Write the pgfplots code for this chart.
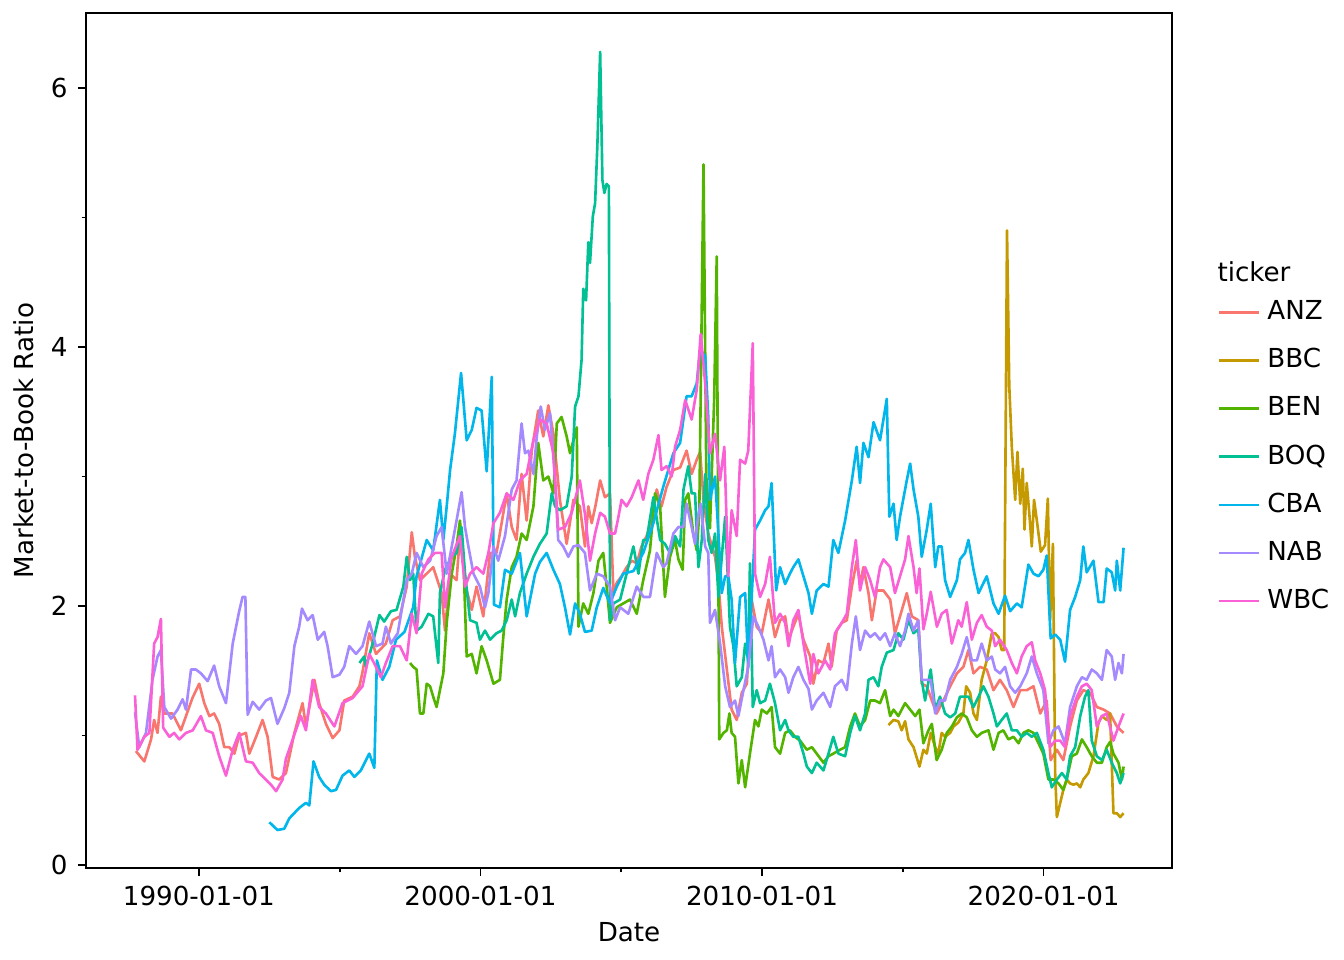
\documentclass[border=0pt]{standalone}
\usepackage{fontspec}
\setmainfont{DejaVu Sans}
\usepackage{pgfplots}
\pgfplotsset{compat=1.18}

\definecolor{cANZ}{HTML}{F8766D}
\definecolor{cBBC}{HTML}{C49A00}
\definecolor{cBEN}{HTML}{53B400}
\definecolor{cBOQ}{HTML}{00C094}
\definecolor{cCBA}{HTML}{00B6EB}
\definecolor{cNAB}{HTML}{A58AFF}
\definecolor{cWBC}{HTML}{FB61D7}

\begin{document}
\begin{tikzpicture}
\begin{axis}[
  scale only axis,
  width=372.3bp, height=293.1bp,
  xmin=1985.99, xmax=2024.56,
  ymin=-0.023, ymax=6.58,
  font=\fontsize{9}{11}\selectfont,
  /pgf/number format/assume math mode=true,
  axis line style={line width=0.6bp},
  tick align=outside, tick pos=left,
  major tick length=2.8bp, minor tick length=1.5bp,
  every tick/.style={black, line width=0.6bp},
  xtick={1990,2000,2010,2020},
  xticklabels={1990-01-01,2000-01-01,2010-01-01,2020-01-01},
  minor xtick={1995,2005,2015},
  ytick={0,2,4,6},
  minor ytick={1,3,5},
  xlabel={Date}, ylabel={Market-to-Book Ratio},
  xlabel style={at={(axis description cs:0.5,-0.0747)}, anchor=center},
  ylabel style={at={(axis description cs:-0.0572,0.5)}, anchor=center},
  every axis plot/.append style={line width=0.9bp, line join=round},
  legend image code/.code={\draw[#1] (0bp,0bp) -- (13.7bp,0bp);},
  legend style={draw=none, fill=none, inner sep=0pt, at={(1,0.481)}, xshift=15.4bp, anchor=west,
    row sep=7.9bp, column sep=2.5bp,
    nodes={inner sep=0pt, text height=6.8bp, text depth=1.8bp, anchor=west}},
  legend cell align=left,
]
\addplot[cANZ] coordinates {(1987.76,0.88)(1988.06,0.80)(1988.30,0.97)(1988.41,1.12)(1988.53,1.02)(1988.65,1.30)(1988.77,1.17)(1989.06,1.17)(1989.36,1.04)(1989.54,1.15)(1989.77,1.29)(1990.01,1.40)(1990.19,1.25)(1990.37,1.15)(1990.54,1.17)(1990.72,1.09)(1990.90,0.91)(1991.08,0.91)(1991.26,0.86)(1991.43,1.00)(1991.67,1.02)(1991.79,0.86)(1992.03,0.99)(1992.26,1.12)(1992.44,0.99)(1992.62,0.68)(1992.85,0.66)(1993.09,0.71)(1993.39,1.02)(1993.68,1.25)(1993.80,1.07)(1994.10,1.43)(1994.27,1.25)(1994.51,1.09)(1994.75,0.98)(1994.99,1.04)(1995.16,1.27)(1995.46,1.30)(1995.70,1.38)(1995.81,1.49)(1996.05,1.79)(1996.29,1.63)(1996.64,1.71)(1996.88,1.89)(1997.14,1.92)(1997.38,2.15)(1997.56,2.57)(1997.67,2.38)(1997.85,2.20)(1998.09,2.25)(1998.32,2.30)(1998.62,2.10)(1998.74,1.81)(1998.92,2.25)(1999.15,2.20)(1999.27,2.54)(1999.51,2.12)(1999.69,1.97)(1999.86,2.15)(2000.10,1.92)(2000.34,2.41)(2000.57,2.41)(2000.93,2.87)(2001.11,2.61)(2001.28,2.51)(2001.46,3.02)(2001.64,2.66)(2001.82,3.20)(2002.05,3.51)(2002.23,3.31)(2002.41,3.55)(2002.59,3.33)(2002.82,2.82)(2003.06,2.48)(2003.30,2.82)(2003.53,2.77)(2003.71,2.46)(2003.83,2.77)(2003.95,2.64)(2004.08,2.77)(2004.25,2.97)(2004.42,2.84)(2004.60,2.87)(2004.72,2.10)(2004.84,2.18)(2005.01,2.23)(2005.19,2.30)(2005.37,2.35)(2005.55,2.33)(2005.72,2.46)(2005.90,2.54)(2006.08,2.66)(2006.26,2.90)(2006.43,2.77)(2006.61,2.92)(2006.85,3.05)(2007.09,3.07)(2007.32,3.20)(2007.50,3.02)(2007.68,3.13)(2007.80,3.19)(2007.92,2.82)(2008.09,2.56)(2008.33,2.38)(2008.45,2.18)(2008.57,1.84)(2008.75,1.51)(2008.92,1.20)(2009.10,1.12)(2009.28,1.33)(2009.46,1.40)(2009.63,2.05)(2009.81,1.84)(2009.99,1.79)(2010.23,2.05)(2010.46,1.76)(2010.64,1.89)(2010.82,1.92)(2010.94,1.74)(2011.11,1.84)(2011.29,1.94)(2011.47,1.74)(2011.71,1.61)(2011.82,1.40)(2012.00,1.58)(2012.18,1.56)(2012.36,1.71)(2012.47,1.53)(2012.65,1.81)(2012.83,1.87)(2013.01,1.89)(2013.19,2.15)(2013.36,2.35)(2013.48,2.17)(2013.60,2.30)(2013.78,2.10)(2013.90,1.89)(2014.07,2.12)(2014.31,2.12)(2014.55,2.05)(2014.72,1.79)(2014.90,1.92)(2015.14,2.10)(2015.32,1.92)(2015.55,1.89)(2015.67,1.40)(2015.85,1.38)(2016.03,1.27)(2016.20,1.17)(2016.44,1.27)(2016.68,1.38)(2016.92,1.48)(2017.15,1.53)(2017.33,1.66)(2017.51,1.48)(2017.74,1.53)(2017.98,1.51)(2018.22,1.35)(2018.45,1.43)(2018.69,1.35)(2018.93,1.22)(2019.17,1.35)(2019.40,1.35)(2019.64,1.38)(2019.88,1.17)(2020.11,1.27)(2020.25,0.81)(2020.47,0.89)(2020.70,0.81)(2020.94,1.07)(2021.18,1.27)(2021.41,1.35)(2021.65,1.33)(2021.89,1.22)(2022.13,1.20)(2022.36,1.17)(2022.60,1.07)(2022.84,1.02)};
\addlegendentry{ANZ}
\addplot[cBBC] coordinates {(2014.49,1.08)(2014.67,1.12)(2014.84,1.11)(2014.96,1.04)(2015.08,1.11)(2015.20,0.97)(2015.38,0.91)(2015.59,0.76)(2015.73,0.89)(2015.85,0.86)(2015.99,1.02)(2016.15,0.91)(2016.26,0.86)(2016.38,1.02)(2016.50,0.99)(2016.68,1.02)(2016.80,1.07)(2016.97,1.10)(2017.15,1.17)(2017.25,1.38)(2017.39,1.33)(2017.51,1.17)(2017.63,1.12)(2017.80,1.43)(2017.98,1.58)(2018.16,1.79)(2018.28,1.79)(2018.40,1.76)(2018.51,1.66)(2018.60,1.66)(2018.70,4.90)(2018.78,3.70)(2018.87,3.23)(2018.99,2.82)(2019.07,3.19)(2019.17,2.79)(2019.26,3.06)(2019.32,2.59)(2019.40,2.95)(2019.49,2.72)(2019.58,2.46)(2019.66,2.82)(2019.76,2.66)(2019.90,2.42)(2020.05,2.47)(2020.15,2.83)(2020.23,1.89)(2020.33,2.48)(2020.41,0.71)(2020.47,0.37)(2020.59,0.48)(2020.70,0.58)(2020.82,0.66)(2020.94,0.63)(2021.06,0.62)(2021.18,0.63)(2021.30,0.60)(2021.41,0.66)(2021.59,0.71)(2021.77,0.84)(2021.95,1.10)(2022.07,1.15)(2022.24,1.12)(2022.36,1.17)(2022.48,0.40)(2022.60,0.40)(2022.72,0.37)(2022.84,0.40)};
\addlegendentry{BBC}
\addplot[cBEN] coordinates {(1997.50,1.56)(1997.61,1.53)(1997.73,1.51)(1997.85,1.17)(1997.97,1.17)(1998.09,1.40)(1998.21,1.38)(1998.32,1.30)(1998.44,1.22)(1998.56,1.35)(1998.68,1.48)(1998.80,1.87)(1998.98,2.25)(1999.15,2.46)(1999.27,2.66)(1999.39,2.38)(1999.51,1.61)(1999.69,1.63)(1999.86,1.48)(2000.04,1.69)(2000.22,1.58)(2000.46,1.40)(2000.69,1.43)(2000.81,1.76)(2000.93,2.05)(2001.11,2.30)(2001.28,2.38)(2001.46,2.56)(2001.64,2.51)(2001.88,2.77)(2002.05,3.26)(2002.23,2.97)(2002.41,3.00)(2002.59,2.87)(2002.71,3.41)(2002.88,3.46)(2003.06,3.31)(2003.18,3.18)(2003.30,3.28)(2003.42,3.38)(2003.48,1.84)(2003.65,2.02)(2003.83,1.94)(2004.01,2.10)(2004.19,2.35)(2004.36,2.41)(2004.48,2.15)(2004.60,1.87)(2004.84,1.99)(2005.07,2.02)(2005.31,2.05)(2005.55,1.94)(2005.78,2.20)(2006.02,2.43)(2006.20,2.87)(2006.38,2.77)(2006.55,2.07)(2006.73,2.38)(2006.91,2.51)(2007.03,2.36)(2007.18,2.28)(2007.27,2.82)(2007.38,2.87)(2007.56,2.56)(2007.68,2.43)(2007.77,2.71)(2007.92,5.41)(2008.02,3.00)(2008.15,2.60)(2008.30,3.60)(2008.39,4.70)(2008.48,0.97)(2008.63,1.02)(2008.75,1.04)(2008.84,1.17)(2008.92,1.02)(2009.04,0.99)(2009.16,0.63)(2009.28,0.81)(2009.40,0.60)(2009.57,0.86)(2009.75,1.12)(2009.87,1.07)(2009.99,1.20)(2010.17,1.17)(2010.34,1.22)(2010.46,0.91)(2010.64,0.86)(2010.82,1.02)(2010.99,1.04)(2011.17,0.99)(2011.35,0.96)(2011.59,0.89)(2011.77,0.91)(2011.94,0.86)(2012.18,0.79)(2012.36,0.84)(2012.53,0.86)(2012.77,0.89)(2012.95,0.91)(2013.13,1.07)(2013.30,1.17)(2013.48,1.07)(2013.66,1.12)(2013.84,1.27)(2014.01,1.27)(2014.19,1.25)(2014.37,1.35)(2014.55,1.15)(2014.67,1.20)(2014.84,1.15)(2015.08,1.25)(2015.26,1.20)(2015.44,1.15)(2015.59,1.20)(2015.73,0.94)(2015.91,1.04)(2016.03,1.09)(2016.20,0.81)(2016.38,0.89)(2016.56,1.02)(2016.74,1.07)(2016.92,1.14)(2017.09,1.17)(2017.27,1.14)(2017.45,1.04)(2017.63,0.99)(2017.80,1.02)(2018.04,1.04)(2018.22,0.89)(2018.40,1.02)(2018.57,1.04)(2018.75,0.97)(2018.93,0.99)(2019.11,0.94)(2019.28,1.02)(2019.46,1.04)(2019.64,1.02)(2019.82,0.94)(2019.99,0.86)(2020.17,0.66)(2020.35,0.66)(2020.53,0.63)(2020.70,0.58)(2020.82,0.66)(2021.00,0.84)(2021.18,0.86)(2021.36,0.97)(2021.53,0.91)(2021.71,0.84)(2021.89,0.79)(2022.07,0.79)(2022.24,0.91)(2022.36,0.95)(2022.48,0.86)(2022.66,0.79)(2022.78,0.66)(2022.84,0.76)};
\addlegendentry{BEN}
\addplot[cBOQ] coordinates {(1995.70,1.56)(1995.87,1.61)(1995.93,1.53)(1996.17,1.71)(1996.41,1.93)(1996.58,1.88)(1996.82,1.96)(1997.02,1.97)(1997.26,2.15)(1997.38,2.38)(1997.50,2.20)(1997.61,2.25)(1997.73,1.81)(1997.91,1.84)(1998.15,1.94)(1998.32,1.92)(1998.50,1.56)(1998.56,2.10)(1998.74,2.28)(1998.98,2.38)(1999.15,2.41)(1999.33,2.61)(1999.45,2.25)(1999.63,1.89)(1999.86,1.87)(1999.98,1.74)(2000.16,1.81)(2000.34,1.74)(2000.57,1.79)(2000.75,1.81)(2000.93,1.89)(2001.11,2.05)(2001.23,1.92)(2001.40,2.10)(2001.64,2.25)(2001.88,2.38)(2002.11,2.48)(2002.35,2.56)(2002.53,2.87)(2002.65,2.77)(2002.82,2.74)(2003.06,2.77)(2003.24,3.00)(2003.36,3.54)(2003.48,3.62)(2003.59,3.90)(2003.65,4.45)(2003.75,4.36)(2003.83,4.81)(2003.89,4.65)(2003.99,5.01)(2004.07,5.11)(2004.15,5.55)(2004.25,6.28)(2004.33,5.29)(2004.40,5.19)(2004.48,5.26)(2004.56,5.24)(2004.60,1.89)(2004.72,2.02)(2004.96,2.05)(2005.19,2.25)(2005.43,2.46)(2005.61,2.25)(2005.78,2.51)(2005.90,2.51)(2006.14,2.84)(2006.38,2.51)(2006.55,2.48)(2006.73,2.41)(2006.91,2.54)(2007.09,2.46)(2007.21,2.90)(2007.38,3.08)(2007.50,2.87)(2007.62,2.87)(2007.74,2.30)(2007.86,2.51)(2007.98,3.02)(2008.09,2.51)(2008.21,2.41)(2008.33,2.56)(2008.45,2.07)(2008.69,2.69)(2008.86,1.84)(2008.98,1.69)(2009.10,1.38)(2009.28,1.45)(2009.40,1.71)(2009.51,1.58)(2009.57,2.33)(2009.67,1.22)(2009.81,1.35)(2009.93,1.25)(2010.11,1.27)(2010.28,1.40)(2010.46,1.25)(2010.64,1.04)(2010.82,1.12)(2010.94,1.04)(2011.11,0.99)(2011.29,0.99)(2011.47,0.86)(2011.59,0.76)(2011.77,0.71)(2011.94,0.79)(2012.18,0.73)(2012.36,0.86)(2012.53,0.99)(2012.71,0.86)(2012.95,0.84)(2013.13,1.02)(2013.30,1.15)(2013.48,1.04)(2013.66,1.17)(2013.78,1.43)(2013.96,1.45)(2014.13,1.38)(2014.25,1.53)(2014.43,1.64)(2014.67,1.66)(2014.84,1.79)(2015.02,1.74)(2015.20,1.89)(2015.38,1.79)(2015.55,1.82)(2015.67,1.43)(2015.79,1.27)(2015.99,1.51)(2016.15,1.20)(2016.32,1.30)(2016.50,1.17)(2016.68,1.14)(2016.86,1.17)(2017.03,1.30)(2017.33,1.30)(2017.51,1.22)(2017.69,1.30)(2017.86,1.38)(2018.04,1.30)(2018.22,1.17)(2018.34,1.07)(2018.51,1.12)(2018.69,1.17)(2018.87,1.04)(2019.05,1.04)(2019.22,0.99)(2019.40,1.02)(2019.58,0.99)(2019.76,1.02)(2019.99,0.89)(2020.17,0.71)(2020.29,0.60)(2020.47,0.66)(2020.65,0.71)(2020.82,0.66)(2020.94,0.84)(2021.12,0.91)(2021.30,1.15)(2021.47,1.30)(2021.59,1.35)(2021.71,0.96)(2021.89,0.84)(2022.07,0.81)(2022.24,0.89)(2022.42,0.79)(2022.60,0.71)(2022.72,0.63)(2022.84,0.71)};
\addlegendentry{BOQ}
\addplot[cCBA] coordinates {(1992.50,0.33)(1992.79,0.27)(1993.03,0.28)(1993.21,0.36)(1993.56,0.44)(1993.80,0.48)(1993.92,0.46)(1994.07,0.80)(1994.27,0.68)(1994.45,0.62)(1994.69,0.57)(1994.87,0.58)(1995.10,0.69)(1995.34,0.73)(1995.52,0.68)(1995.75,0.73)(1996.05,0.86)(1996.23,0.75)(1996.32,1.58)(1996.52,1.43)(1996.76,1.53)(1997.00,1.74)(1997.30,1.80)(1997.61,1.99)(1997.73,2.23)(1998.09,2.51)(1998.32,2.43)(1998.56,2.82)(1998.68,2.51)(1998.80,2.77)(1998.92,3.05)(1999.09,3.33)(1999.31,3.80)(1999.51,3.28)(1999.69,3.36)(1999.86,3.53)(2000.04,3.51)(2000.22,3.04)(2000.40,3.77)(2000.48,2.01)(2000.69,1.99)(2000.87,2.28)(2001.11,2.25)(2001.40,2.41)(2001.64,1.92)(2001.94,2.25)(2002.11,2.34)(2002.35,2.41)(2002.59,2.28)(2002.82,2.17)(2003.00,1.99)(2003.18,1.78)(2003.36,2.02)(2003.53,1.94)(2003.71,1.80)(2003.95,1.81)(2004.13,1.99)(2004.36,2.14)(2004.60,2.02)(2004.84,2.15)(2005.07,2.25)(2005.43,2.27)(2005.78,2.41)(2006.14,2.64)(2006.49,2.92)(2006.85,3.18)(2007.09,3.26)(2007.32,3.62)(2007.50,3.62)(2007.68,3.72)(2007.80,3.98)(2007.98,3.93)(2008.09,3.46)(2008.15,2.82)(2008.33,3.00)(2008.45,2.56)(2008.57,2.10)(2008.69,2.23)(2008.80,2.23)(2008.92,2.05)(2009.04,1.56)(2009.22,2.07)(2009.40,2.10)(2009.51,1.53)(2009.75,2.59)(2009.93,2.66)(2010.11,2.74)(2010.23,2.77)(2010.34,2.95)(2010.50,2.12)(2010.64,2.30)(2010.82,2.17)(2010.99,2.25)(2011.11,2.30)(2011.29,2.36)(2011.47,2.23)(2011.65,2.10)(2011.77,1.94)(2011.94,2.12)(2012.18,2.17)(2012.36,2.15)(2012.53,2.51)(2012.71,2.41)(2012.95,2.66)(2013.19,2.97)(2013.36,3.23)(2013.48,2.95)(2013.60,3.26)(2013.78,3.15)(2013.96,3.42)(2014.19,3.28)(2014.43,3.60)(2014.52,2.69)(2014.67,2.79)(2014.78,2.51)(2014.90,2.69)(2015.14,2.97)(2015.26,3.10)(2015.38,2.90)(2015.55,2.69)(2015.67,2.38)(2015.85,2.59)(2015.99,2.79)(2016.15,2.30)(2016.26,2.46)(2016.38,2.46)(2016.50,2.20)(2016.68,2.07)(2016.92,2.20)(2017.03,2.36)(2017.21,2.41)(2017.33,2.51)(2017.51,2.28)(2017.69,2.10)(2017.98,2.23)(2018.22,2.02)(2018.40,1.94)(2018.63,2.08)(2018.81,1.96)(2019.05,2.02)(2019.22,1.99)(2019.46,2.32)(2019.64,2.25)(2019.82,2.23)(2019.99,2.28)(2020.11,2.39)(2020.25,1.75)(2020.41,1.78)(2020.59,1.74)(2020.76,1.57)(2020.94,1.97)(2021.12,2.07)(2021.30,2.20)(2021.41,2.46)(2021.53,2.26)(2021.77,2.35)(2021.95,2.03)(2022.13,2.03)(2022.24,2.29)(2022.42,2.26)(2022.54,2.12)(2022.60,2.35)(2022.72,2.12)(2022.84,2.45)};
\addlegendentry{CBA}
\addplot[cNAB] coordinates {(1987.73,1.18)(1987.88,0.91)(1988.12,1.02)(1988.35,1.43)(1988.53,1.61)(1988.65,1.66)(1988.77,1.22)(1989.01,1.13)(1989.24,1.20)(1989.42,1.28)(1989.54,1.20)(1989.72,1.51)(1989.89,1.51)(1990.07,1.48)(1990.31,1.42)(1990.54,1.54)(1990.72,1.38)(1990.96,1.25)(1991.20,1.71)(1991.43,1.96)(1991.55,2.07)(1991.65,2.07)(1991.73,1.16)(1991.91,1.26)(1992.14,1.20)(1992.38,1.27)(1992.56,1.29)(1992.79,1.09)(1993.03,1.21)(1993.21,1.33)(1993.39,1.69)(1993.56,1.84)(1993.66,1.98)(1993.86,1.89)(1994.04,1.93)(1994.22,1.74)(1994.45,1.80)(1994.57,1.69)(1994.75,1.45)(1994.99,1.47)(1995.16,1.53)(1995.34,1.69)(1995.58,1.63)(1995.81,1.69)(1996.05,1.88)(1996.29,1.69)(1996.52,1.71)(1996.64,1.84)(1996.82,1.71)(1997.06,1.79)(1997.14,1.89)(1997.38,2.20)(1997.56,2.25)(1997.73,2.41)(1997.97,2.30)(1998.21,2.35)(1998.44,2.54)(1998.62,2.61)(1998.80,2.25)(1998.98,2.46)(1999.15,2.66)(1999.33,2.88)(1999.45,2.61)(1999.57,2.46)(1999.75,2.25)(1999.98,2.15)(2000.16,1.99)(2000.28,2.10)(2000.46,2.46)(2000.63,2.35)(2000.87,2.54)(2001.11,2.90)(2001.28,2.97)(2001.46,3.41)(2001.58,3.18)(2001.70,3.20)(2001.88,3.02)(2002.00,3.31)(2002.14,3.54)(2002.29,3.36)(2002.47,3.49)(2002.65,2.97)(2002.76,2.51)(2002.94,2.46)(2003.12,2.38)(2003.30,2.46)(2003.48,2.47)(2003.71,2.41)(2003.89,2.12)(2004.13,2.25)(2004.36,2.23)(2004.60,2.15)(2004.78,1.89)(2004.96,1.99)(2005.25,1.94)(2005.55,2.15)(2005.79,2.07)(2006.02,2.07)(2006.26,2.41)(2006.49,2.30)(2006.61,2.33)(2006.85,2.56)(2007.03,2.61)(2007.21,2.61)(2007.32,2.79)(2007.50,2.61)(2007.62,2.48)(2007.74,2.71)(2007.82,2.79)(2007.98,2.46)(2008.09,2.41)(2008.15,1.87)(2008.33,1.97)(2008.51,1.71)(2008.69,1.38)(2008.86,1.22)(2009.04,1.27)(2009.16,1.15)(2009.34,1.35)(2009.51,1.53)(2009.69,1.92)(2009.87,1.84)(2010.05,1.74)(2010.23,1.58)(2010.34,1.69)(2010.46,1.45)(2010.64,1.51)(2010.82,1.45)(2010.94,1.33)(2011.11,1.45)(2011.29,1.53)(2011.47,1.43)(2011.65,1.36)(2011.77,1.20)(2011.94,1.27)(2012.18,1.33)(2012.42,1.22)(2012.59,1.38)(2012.83,1.43)(2013.01,1.35)(2013.19,1.71)(2013.33,1.92)(2013.48,1.66)(2013.66,1.81)(2013.84,1.76)(2014.01,1.79)(2014.19,1.74)(2014.37,1.79)(2014.55,1.69)(2014.72,1.79)(2014.90,1.69)(2015.08,1.81)(2015.20,1.94)(2015.38,1.81)(2015.55,1.89)(2015.67,1.43)(2015.85,1.43)(2015.99,1.43)(2016.15,1.17)(2016.32,1.27)(2016.50,1.27)(2016.68,1.43)(2016.92,1.53)(2017.09,1.63)(2017.27,1.76)(2017.45,1.58)(2017.63,1.58)(2017.80,1.71)(2017.98,1.58)(2018.16,1.61)(2018.28,1.51)(2018.45,1.48)(2018.63,1.53)(2018.81,1.38)(2018.99,1.33)(2019.17,1.38)(2019.40,1.48)(2019.58,1.61)(2019.76,1.48)(2019.99,1.35)(2020.17,0.94)(2020.35,1.04)(2020.53,1.07)(2020.76,0.94)(2020.94,1.22)(2021.18,1.38)(2021.36,1.45)(2021.53,1.43)(2021.71,1.51)(2021.89,1.48)(2022.07,1.43)(2022.24,1.66)(2022.42,1.61)(2022.54,1.43)(2022.66,1.56)(2022.78,1.48)(2022.84,1.63)};
\addlegendentry{NAB}
\addplot[cWBC] coordinates {(1987.73,1.31)(1987.82,0.89)(1988.06,0.99)(1988.24,1.02)(1988.41,1.71)(1988.53,1.76)(1988.65,1.90)(1988.73,1.06)(1988.95,0.99)(1989.12,1.02)(1989.30,0.97)(1989.54,1.02)(1989.78,1.04)(1990.07,1.15)(1990.25,1.04)(1990.49,1.02)(1990.72,0.84)(1990.96,0.69)(1991.20,0.89)(1991.43,1.02)(1991.67,0.80)(1991.91,0.79)(1992.14,0.71)(1992.56,0.62)(1992.74,0.57)(1992.97,0.66)(1993.09,0.82)(1993.33,0.97)(1993.62,1.15)(1993.80,1.04)(1994.04,1.43)(1994.27,1.22)(1994.51,1.17)(1994.81,1.07)(1995.10,1.25)(1995.46,1.29)(1995.81,1.38)(1996.05,1.63)(1996.29,1.53)(1996.46,1.45)(1996.64,1.56)(1996.88,1.69)(1997.14,1.69)(1997.38,1.58)(1997.56,1.94)(1997.73,1.79)(1997.91,2.25)(1998.15,2.36)(1998.38,2.41)(1998.62,2.41)(1998.74,1.99)(1998.98,2.38)(1999.27,2.54)(1999.45,2.15)(1999.63,2.25)(1999.86,2.30)(2000.10,2.25)(2000.28,2.41)(2000.46,2.64)(2000.69,2.72)(2000.93,2.87)(2001.17,2.82)(2001.40,2.97)(2001.64,3.02)(2001.88,3.28)(2002.11,3.44)(2002.35,3.41)(2002.59,3.18)(2002.76,2.59)(2003.00,2.61)(2003.24,2.72)(2003.53,2.97)(2003.71,2.71)(2003.89,2.35)(2004.07,2.56)(2004.25,2.72)(2004.42,2.69)(2004.60,2.56)(2004.78,2.56)(2004.90,2.69)(2005.01,2.82)(2005.19,2.77)(2005.37,2.84)(2005.61,2.97)(2005.78,2.82)(2005.96,3.02)(2006.14,3.13)(2006.32,3.32)(2006.43,3.05)(2006.61,3.08)(2006.79,3.00)(2006.91,3.23)(2007.09,3.36)(2007.27,3.59)(2007.50,3.44)(2007.68,3.67)(2007.82,4.10)(2007.98,3.72)(2008.15,3.18)(2008.33,3.33)(2008.51,2.97)(2008.66,3.23)(2008.80,2.23)(2008.92,2.74)(2009.10,2.54)(2009.22,3.13)(2009.40,3.10)(2009.51,3.20)(2009.67,4.03)(2009.75,2.25)(2009.93,2.07)(2010.11,2.17)(2010.28,2.38)(2010.46,1.87)(2010.64,1.94)(2010.82,1.87)(2010.94,1.69)(2011.11,1.89)(2011.29,1.97)(2011.47,1.71)(2011.71,1.40)(2011.82,1.63)(2012.00,1.48)(2012.24,1.58)(2012.42,1.51)(2012.59,1.79)(2012.83,1.87)(2013.01,1.94)(2013.19,2.30)(2013.33,2.51)(2013.48,2.12)(2013.66,2.30)(2013.84,2.20)(2014.01,2.07)(2014.19,2.30)(2014.31,2.36)(2014.55,2.30)(2014.72,2.10)(2014.90,2.23)(2015.08,2.36)(2015.20,2.54)(2015.38,2.30)(2015.49,2.10)(2015.59,2.29)(2015.73,1.82)(2015.85,1.94)(2015.99,2.11)(2016.21,1.84)(2016.38,1.94)(2016.56,1.97)(2016.74,1.71)(2016.97,1.89)(2017.09,1.84)(2017.27,2.03)(2017.45,1.74)(2017.63,1.87)(2017.80,1.93)(2017.98,1.84)(2018.16,1.81)(2018.28,1.69)(2018.45,1.74)(2018.69,1.66)(2018.87,1.56)(2019.05,1.48)(2019.22,1.61)(2019.40,1.69)(2019.58,1.72)(2019.70,1.58)(2019.88,1.48)(2020.05,1.35)(2020.23,0.91)(2020.41,0.96)(2020.59,0.96)(2020.76,0.91)(2020.94,1.15)(2021.18,1.30)(2021.36,1.38)(2021.53,1.40)(2021.71,1.35)(2021.89,1.07)(2022.07,1.15)(2022.24,1.17)(2022.48,0.96)(2022.66,1.07)(2022.84,1.17)};
\addlegendentry{WBC}
\coordinate (sw) at (rel axis cs:0,0);
\coordinate (ne) at (rel axis cs:1,1);
\coordinate (tk) at (rel axis cs:1,0.697);
\end{axis}
\node[anchor=west, inner sep=0pt, font=\fontsize{9}{11}\selectfont] at ([xshift=15.4bp]tk) {ticker};
\pgfresetboundingbox
\path[use as bounding box] ([xshift=-29.49bp,yshift=-31.54bp]sw) rectangle ([xshift=58.97bp,yshift=4.46bp]ne);
\end{tikzpicture}
\end{document}
